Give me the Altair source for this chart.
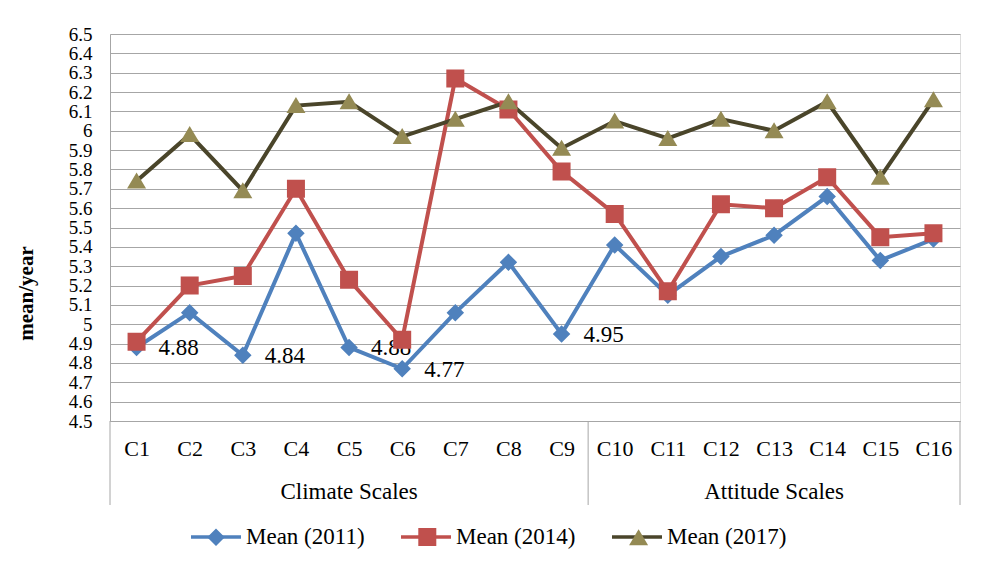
import altair as alt
import pandas as pd

# ---------------- data ----------------
categories = ["C1", "C2", "C3", "C4", "C5", "C6", "C7", "C8",
              "C9", "C10", "C11", "C12", "C13", "C14", "C15", "C16"]
series_names = ["Mean (2011)", "Mean (2014)", "Mean (2017)"]
mean_2011 = [4.88, 5.06, 4.84, 5.47, 4.88, 4.77, 5.06, 5.32,
             4.95, 5.41, 5.15, 5.35, 5.46, 5.66, 5.33, 5.44]
mean_2014 = [4.91, 5.20, 5.25, 5.70, 5.23, 4.92, 6.27, 6.11,
             5.79, 5.57, 5.17, 5.62, 5.60, 5.76, 5.45, 5.47]
mean_2017 = [5.74, 5.98, 5.69, 6.13, 6.15, 5.97, 6.06, 6.15,
             5.91, 6.05, 5.96, 6.06, 6.00, 6.15, 5.76, 6.16]
group_names = ["Climate Scales", "Attitude Scales"]
group_sizes = [9, 7]
label_categories = ["C1", "C3", "C5", "C6", "C9"]   # labelled points of 2011
y_ticks = [4.5, 4.6, 4.7, 4.8, 4.9, 5.0, 5.1, 5.2, 5.3, 5.4, 5.5,
           5.6, 5.7, 5.8, 5.9, 6.0, 6.1, 6.2, 6.3, 6.4, 6.5]

# ---------------- style ----------------
FONT = "Liberation Serif, Times New Roman, Tinos, DejaVu Serif, serif"
line_colors = ["#4F81BD", "#C0504D", "#4A452A"]
marker_colors = ["#4F81BD", "#C0504D", "#948A54"]
EXT = "M-1,0L-1,0M1,0L1,0"   # invisible extent so legend symbols match line symbols
marker_paths = [
    "M0,-0.35L0.35,0L0,0.35L-0.35,0Z" + EXT,       # diamond
    "M-0.36,-0.36H0.36V0.36H-0.36Z" + EXT,          # square
    "M0,-0.34L0.38,0.3H-0.38Z" + EXT,               # triangle
]
GRID = "#A6A6A6"
W, H = 850, 387
LEG_FS = 23
LEG_PAD = 29
LABEL_SHIFT = 118.3   # extra width of a line-legend entry (its label) vs a marker entry

# ---------------- tables ----------------
rows = []
for s, vals in zip(series_names, [mean_2011, mean_2014, mean_2017]):
    for i, (c, v) in enumerate(zip(categories, vals)):
        rows.append({"series": s, "cat": c, "pos": i + 1, "value": v})
df = pd.DataFrame(rows)

lab_df = df[(df["series"] == series_names[0]) & (df["cat"].isin(label_categories))]

bounds = [0.5]
centers = []
start = 0
for g, n in zip(group_names, group_sizes):
    centers.append({"group": g, "pos": start + (n + 1) / 2})
    start += n
    bounds.append(start + 0.5)
bound_df = pd.DataFrame({"pos": bounds})
center_df = pd.DataFrame(centers)

positions = list(range(1, len(categories) + 1))
label_expr = "[" + ",".join("'%s'" % c for c in categories) + "][datum.value - 1]"

xscale = alt.Scale(domain=[0.5, len(categories) + 0.5], nice=False, zero=False)
yscale = alt.Scale(domain=[y_ticks[0], y_ticks[-1]], nice=False, zero=False)

xaxis = alt.Axis(values=positions, labelExpr=label_expr, title=None, grid=False,
                 ticks=False, tickSize=0, domainColor=GRID, domainWidth=1,
                 labelFont=FONT, labelFontSize=22, labelColor="black",
                 labelPadding=27, labelBaseline="middle", labelAngle=0,
                 labelOverlap=False, labelFlush=False)
yaxis = alt.Axis(values=y_ticks, format=".1~f", title="mean/year",
                 titleFont=FONT, titleFontSize=21, titleFontWeight="bold",
                 titleColor="black", titleX=-84, titleY=259, titleAngle=-90,
                 titleAlign="center", titleBaseline="middle",
                 grid=True, gridColor=GRID, gridWidth=1,
                 ticks=False, tickSize=0, domainColor=GRID, domainWidth=1,
                 labelFont=FONT, labelFontSize=19, labelColor="black",
                 labelPadding=18, labelOverlap=False, labelFlush=False)

X = alt.X("pos:Q", scale=xscale, axis=xaxis)
Y = alt.Y("value:Q", scale=yscale, axis=yaxis)

legend_common = dict(orient="none", legendX=79, legendY=476, direction="horizontal",
                     title=None, symbolSize=2500, symbolStrokeWidth=3.5,
                     labelFont=FONT, labelFontSize=LEG_FS, padding=0, labelLimit=0)

lines = alt.Chart(df).mark_line(strokeWidth=4).encode(
    x=X, y=Y,
    color=alt.Color("series:N",
                    scale=alt.Scale(domain=series_names, range=line_colors),
                    legend=alt.Legend(symbolType="M-1,0H1", labelColor="black",
                                      labelOffset=3, columnPadding=LEG_PAD,
                                      **legend_common)),
    detail="series:N",
)

labels = alt.Chart(lab_df).mark_text(
    align="left", baseline="middle", dx=22, dy=1,
    font=FONT, fontSize=23, color="black"
).encode(x=X, y=Y, text=alt.Text("value:Q", format=".2f"))

points = alt.Chart(df).mark_point(filled=True, opacity=1, size=2500, strokeWidth=0).encode(
    x=X, y=Y,
    fill=alt.Fill("series:N", scale=alt.Scale(range=marker_colors),
                  legend=alt.Legend(symbolStrokeColor="transparent", labelExpr="''",
                                    labelOffset=0,
                                    columnPadding=LEG_PAD + LABEL_SHIFT,
                                    **legend_common)),
    shape=alt.Shape("series:N", scale=alt.Scale(range=marker_paths)),
)

separators = alt.Chart(bound_df).mark_rule(color=GRID, strokeWidth=1).encode(
    x=X, y=alt.value(H), y2=alt.value(H + 84)
)

group_text = alt.Chart(center_df).mark_text(
    align="center", baseline="middle", font=FONT, fontSize=23, color="black"
).encode(x=X, y=alt.value(H + 71), text="group:N")

chart = alt.layer(lines, labels, points, separators, group_text).properties(
    width=W, height=H,
    padding={"left": 102, "top": 26, "right": 14, "bottom": 139},
    autosize=alt.AutoSizeParams(type="none"),
).configure_view(stroke=None).configure(font=FONT)

chart.save("out.html", embed_options={"renderer": "svg", "actions": False})
